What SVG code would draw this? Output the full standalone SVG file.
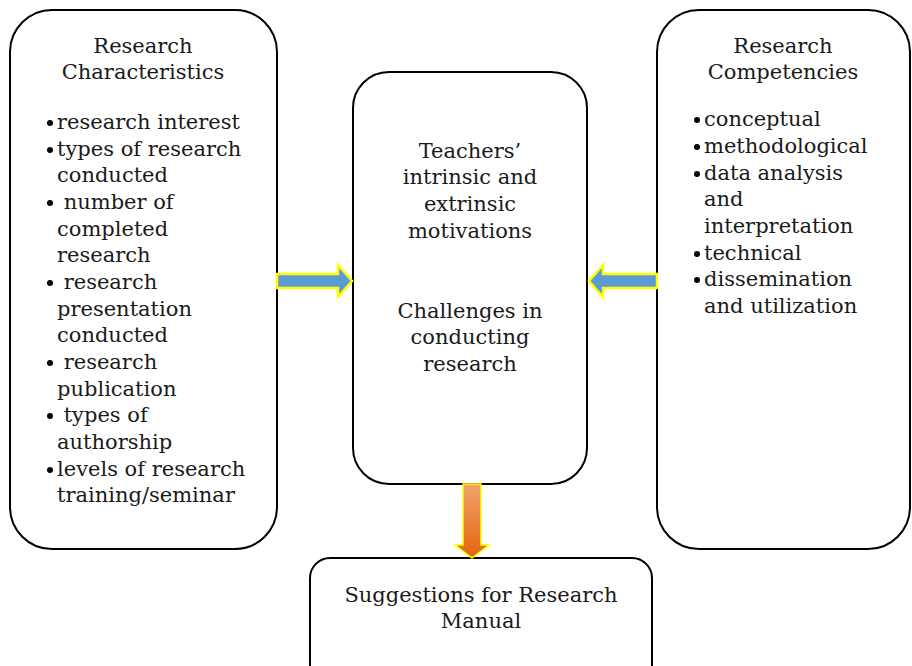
<svg xmlns="http://www.w3.org/2000/svg" width="912" height="666" viewBox="0 0 912 666">
  <defs>
    <linearGradient id="orangeFill" x1="0" y1="0" x2="0" y2="1">
      <stop offset="0" stop-color="#F2A46B"/>
      <stop offset="1" stop-color="#E2640E"/>
    </linearGradient>
  </defs>
  <style>
    .box { fill: #ffffff; stroke: #000000; stroke-width: 2; }
    .t { font-family: "DejaVu Serif", "Liberation Serif", serif; font-size: 21px; fill: #1a1a1a; }
    .c { text-anchor: middle; }
    .dot { fill: #000000; }
    .blue { fill: #5B9BD5; stroke: #FFFF00; stroke-width: 2.5; stroke-linejoin: miter; }
    .orange { fill: url(#orangeFill); stroke: #FFFF00; stroke-width: 1.5; }
  </style>
  <rect width="912" height="666" fill="#ffffff"/>

  <!-- Left: research characteristics -->
  <g id="characteristics">
    <rect class="box" x="10" y="10" width="267" height="539" rx="42" ry="42"/>
    <text class="t c" x="143" y="53">Research</text>
    <text class="t c" x="143" y="79">Characteristics</text>
    <circle class="dot" cx="50" cy="123" r="3"/>
    <text class="t" x="57" y="129">research interest</text>
    <circle class="dot" cx="50" cy="150" r="3"/>
    <text class="t" x="57" y="156">types of research</text>
    <text class="t" x="57" y="182">conducted</text>
    <circle class="dot" cx="50" cy="203" r="3"/>
    <text class="t" x="57" y="209" xml:space="preserve"> number of</text>
    <text class="t" x="57" y="236">completed</text>
    <text class="t" x="57" y="262">research</text>
    <circle class="dot" cx="50" cy="283" r="3"/>
    <text class="t" x="57" y="289" xml:space="preserve"> research</text>
    <text class="t" x="57" y="316">presentation</text>
    <text class="t" x="57" y="342">conducted</text>
    <circle class="dot" cx="50" cy="363" r="3"/>
    <text class="t" x="57" y="369" xml:space="preserve"> research</text>
    <text class="t" x="57" y="396">publication</text>
    <circle class="dot" cx="50" cy="416" r="3"/>
    <text class="t" x="57" y="422" xml:space="preserve"> types of</text>
    <text class="t" x="57" y="449">authorship</text>
    <circle class="dot" cx="50" cy="470" r="3"/>
    <text class="t" x="57" y="476">levels of research</text>
    <text class="t" x="57" y="502">training/seminar</text>
  </g>

  <!-- Centre: motivations and challenges -->
  <g id="motivations">
    <rect class="box" x="353" y="72" width="234" height="412" rx="36" ry="36"/>
    <text class="t c" x="470" y="158">Teachers’</text>
    <text class="t c" x="470" y="184">intrinsic and</text>
    <text class="t c" x="470" y="211">extrinsic</text>
    <text class="t c" x="470" y="238">motivations</text>
    <text class="t c" x="470" y="318">Challenges in</text>
    <text class="t c" x="470" y="344">conducting</text>
    <text class="t c" x="470" y="371">research</text>
  </g>

  <!-- Right: research competencies -->
  <g id="competencies">
    <rect class="box" x="657" y="10" width="253" height="539" rx="42" ry="42"/>
    <text class="t c" x="783" y="53">Research</text>
    <text class="t c" x="783" y="79">Competencies</text>
    <circle class="dot" cx="697" cy="120" r="3"/>
    <text class="t" x="704" y="126">conceptual</text>
    <circle class="dot" cx="697" cy="147" r="3"/>
    <text class="t" x="704" y="153">methodological</text>
    <circle class="dot" cx="697" cy="174" r="3"/>
    <text class="t" x="704" y="180">data analysis</text>
    <text class="t" x="704" y="206">and</text>
    <text class="t" x="704" y="233">interpretation</text>
    <circle class="dot" cx="697" cy="254" r="3"/>
    <text class="t" x="704" y="260">technical</text>
    <circle class="dot" cx="697" cy="280" r="3"/>
    <text class="t" x="704" y="286">dissemination</text>
    <text class="t" x="704" y="313">and utilization</text>
  </g>

  <!-- Bottom: suggestions -->
  <g id="suggestions">
    <rect class="box" x="310" y="558" width="342" height="130" rx="20" ry="20"/>
    <text class="t c" x="481" y="602">Suggestions for Research</text>
    <text class="t c" x="481" y="628">Manual</text>
  </g>

  <!-- Connectors: block arrows -->
  <g id="connectors">
    <path class="blue" d="M277,274 H338 V265 L352,281 L338,297 V288 H277 Z"/>
    <path class="blue" d="M657,274 H603 V265 L589,281 L603,297 V288 H657 Z"/>
    <path class="orange" d="M463,484 H481 V545 H489 L472,558 L455,545 H463 Z"/>
  </g>
</svg>
